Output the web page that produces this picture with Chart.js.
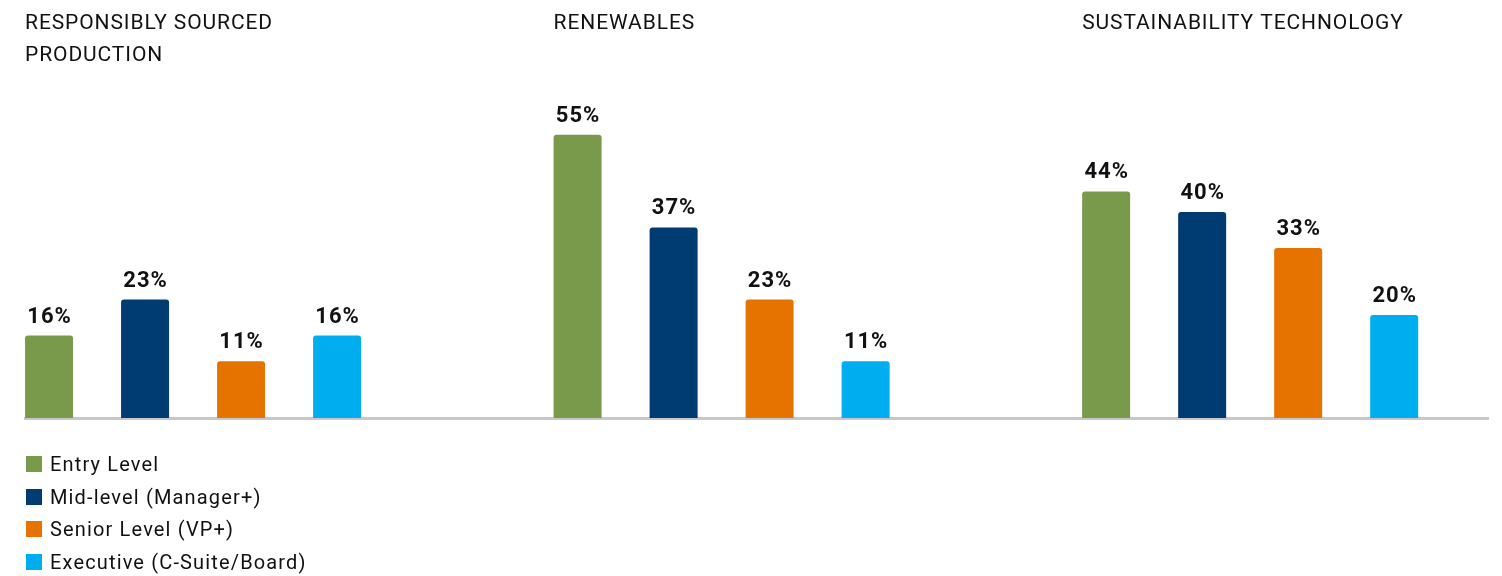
<!DOCTYPE html>
<html>
<head>
<meta charset="utf-8">
<script src="https://cdn.jsdelivr.net/npm/chart.js@4/dist/chart.umd.min.js"></script>
<style>
  html, body { margin: 0; padding: 0; background: #fff; }
  .wrap { position: relative; width: 1502px; height: 576px; overflow: hidden; }
  canvas { display: block; }
  .legend { position: absolute; left: 26px; top: 448px; font-family: Roboto, sans-serif; font-size: 20px; letter-spacing: 1.15px; color: #111; }
  .legend .item { display: flex; align-items: center; height: 32.5px; }
  .legend .box { width: 16px; height: 16px; margin-right: 8px; }
</style>
</head>
<body>
<div class="wrap">
  <canvas id="chart" width="1502" height="576"></canvas>
  <div class="legend" id="legend"></div>
</div>
<script>
const groups = [
  ['RESPONSIBLY SOURCED', 'PRODUCTION'],
  ['RENEWABLES'],
  ['SUSTAINABILITY TECHNOLOGY']
];
const levels = ['Entry Level', 'Mid-level (Manager+)', 'Senior Level (VP+)', 'Executive (C-Suite/Board)'];
const colors = ['#7a9a4b', '#003b71', '#e67300', '#00aeef'];

const entryLevel = [16, 55, 44];
const midLevel = [23, 37, 40];
const seniorLevel = [11, 23, 33];
const executive = [16, 11, 20];
const series = [entryLevel, midLevel, seniorLevel, executive];

const FONT = 'Roboto, sans-serif';

// titles above each group, left aligned with the first bar
const groupTitles = {
  id: 'groupTitles',
  afterDraw(chart) {
    const ctx = chart.ctx;
    const bars = chart.getDatasetMeta(0).data;
    ctx.save();
    ctx.font = `21px ${FONT}`;
    ctx.letterSpacing = '0.9px';
    ctx.fillStyle = '#111';
    ctx.textAlign = 'left';
    ctx.textBaseline = 'alphabetic';
    groups.forEach((lines, i) => {
      const b = bars[i];
      const left = b.x - b.width / 2;
      lines.forEach((line, j) => ctx.fillText(line, left, 29 + j * 32));
    });
    ctx.restore();
  }
};

const valueLabels = {
  id: 'valueLabels',
  afterDatasetsDraw(chart) {
    const ctx = chart.ctx;
    ctx.save();
    ctx.font = `bold 22px ${FONT}`;
    ctx.letterSpacing = '1px';
    ctx.fillStyle = '#111';
    ctx.textAlign = 'center';
    ctx.textBaseline = 'alphabetic';
    chart.data.datasets.forEach((ds, di) => {
      chart.getDatasetMeta(di).data.forEach((bar, i) => {
        ctx.fillText(ds.data[i].y + '%', bar.x + 0.5, bar.y - 13);
      });
    });
    ctx.restore();
  }
};

const chart = new Chart(document.getElementById('chart'), {
  type: 'bar',
  data: {
    datasets: levels.map((name, k) => ({
      label: name,
      data: series[k].map((v, i) => ({ x: i, y: v })),
      backgroundColor: colors[k],
      borderRadius: 3,
      borderSkipped: 'bottom',
      barPercentage: 0.5,
      categoryPercentage: 0.7266
    }))
  },
  options: {
    responsive: false,
    animation: false,
    layout: { padding: { left: 25, right: 14, top: 109, bottom: 150 } },
    plugins: {
      legend: { display: false },
      tooltip: { enabled: false }
    },
    scales: {
      x: {
        type: 'linear',
        bounds: 'data',
        offset: false,
        min: -0.318,
        max: 2.45,
        // one tick per group so the bar width follows the group spacing
        afterBuildTicks: scale => { scale.ticks = groups.map((g, i) => ({ value: i })); },
        ticks: { display: false },
        grid: { display: false },
        border: { display: true, color: '#c8c8c8', width: 3 }
      },
      y: {
        display: false,
        min: 0,
        max: 60
      }
    }
  },
  plugins: [groupTitles, valueLabels]
});

const legend = document.getElementById('legend');
chart.data.datasets.forEach(ds => {
  const item = document.createElement('div');
  item.className = 'item';
  item.innerHTML = `<span class="box" style="background:${ds.backgroundColor}"></span><span>${ds.label}</span>`;
  legend.appendChild(item);
});
</script>
</body>
</html>
